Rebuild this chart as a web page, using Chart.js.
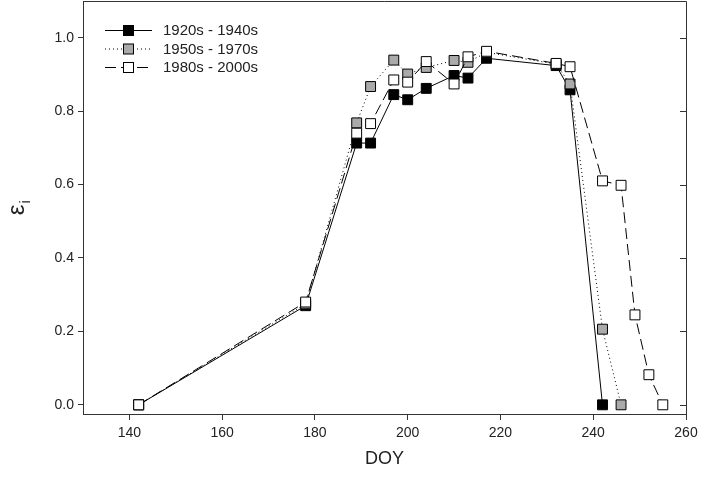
<!DOCTYPE html>
<html>
<head>
<meta charset="utf-8">
<script src="https://cdn.jsdelivr.net/npm/chart.js@4/dist/chart.umd.min.js"></script>
<style>
  html, body { margin: 0; padding: 0; background: #fff; }
  #wrap { width: 701px; height: 491px; }
</style>
</head>
<body>
<div id="wrap"><canvas id="eps"></canvas></div>
<script>
"use strict";

// series (DOY, epsilon_i)
const seriesNames = ["1920s - 1940s", "1950s - 1970s", "1980s - 2000s"];
const doyEarly = [142, 178, 189, 192, 197, 200, 204, 210, 213, 217, 232, 235, 242];
const epsEarly = [0, 0.27, 0.713, 0.713, 0.845, 0.831, 0.862, 0.897, 0.89, 0.944, 0.924, 0.858, 0];
const doyMid = [142, 178, 189, 192, 197, 200, 204, 210, 213, 217, 232, 235, 242, 246];
const epsMid = [0, 0.275, 0.768, 0.867, 0.939, 0.901, 0.919, 0.938, 0.933, 0.96, 0.928, 0.874, 0.206, 0];
const doyLate = [142, 178, 189, 192, 197, 200, 204, 210, 213, 217, 232, 235, 242, 246, 249, 252, 255];
const epsLate = [0, 0.28, 0.74, 0.766, 0.885, 0.879, 0.935, 0.874, 0.948, 0.963, 0.93, 0.921, 0.61, 0.598, 0.245, 0.082, 0];

const xTicks = [140, 160, 180, 200, 220, 240, 260];
const yTicks = [0, 0.2, 0.4, 0.6, 0.8, 1.0];

const FONT = "'Liberation Sans', Arial, sans-serif";
const AXIS = "#333";
const fills = ["#000000", "#aaaaaa", "#ffffff"];
const dashes = [[], [1, 3], [11, 5]];

function pts(xs, ys) {
  return xs.map((x, i) => ({ x: x, y: ys[i] }));
}

function makeSet(i, xs, ys) {
  return {
    label: seriesNames[i],
    data: pts(xs, ys),
    borderColor: "#000",
    borderWidth: 1,
    borderDash: dashes[i],
    pointStyle: "rect",
    pointRadius: 7,
    pointBorderWidth: 1,
    pointBorderColor: "#000",
    pointBackgroundColor: fills[i],
    tension: 0,
    order: 2 - i,
  };
}

const framePlugin = {
  id: "frame",
  afterDraw(chart) {
    const ctx = chart.ctx;
    const a = chart.chartArea;
    const ys = chart.scales.y;
    ctx.save();
    ctx.strokeStyle = AXIS;
    ctx.lineWidth = 1;
    ctx.beginPath();
    ctx.moveTo(a.left, a.top + 0.5);
    ctx.lineTo(a.right + 0.5, a.top + 0.5);
    ctx.lineTo(a.right + 0.5, a.bottom);
    yTicks.forEach((v) => {
      const py = Math.round(ys.getPixelForValue(v)) + 0.5;
      ctx.moveTo(a.right, py);
      ctx.lineTo(a.right - 6, py);
    });
    ctx.stroke();

    // legend: line sample, marker, label
    const rows = [30, 48.5, 67];
    ctx.font = "15px " + FONT;
    ctx.textBaseline = "middle";
    ctx.textAlign = "left";
    rows.forEach((ry, i) => {
      ctx.strokeStyle = "#000";
      ctx.setLineDash(dashes[i]);
      ctx.beginPath();
      ctx.moveTo(105, ry + 0.5);
      ctx.lineTo(152, ry + 0.5);
      ctx.stroke();
      ctx.setLineDash([]);
      ctx.fillStyle = fills[i];
      ctx.fillRect(123.5, ry - 4.5, 10, 10);
      ctx.strokeRect(123.5, ry - 4.5, 10, 10);
      ctx.fillStyle = "#222";
      ctx.fillText(seriesNames[i], 163, ry + 1);
    });

    // axis titles
    ctx.fillStyle = "#222";
    ctx.textAlign = "center";
    ctx.font = "18px " + FONT;
    ctx.fillText("DOY", (a.left + a.right) / 2, 459);

    ctx.translate(17, 210);
    ctx.rotate(-Math.PI / 2);
    ctx.font = "24px " + FONT;
    ctx.fillText("\u03b5", 0, 0);
    ctx.font = "14px " + FONT;
    ctx.fillText("i", 8, 9);
    ctx.restore();
  },
};

new Chart(document.getElementById("eps"), {
  type: "line",
  data: {
    datasets: [
      makeSet(0, doyEarly, epsEarly),
      makeSet(1, doyMid, epsMid),
      makeSet(2, doyLate, epsLate),
    ],
  },
  options: {
    responsive: true,
    maintainAspectRatio: false,
    animation: false,
    layout: {
      autoPadding: false,
      padding: { top: 1, right: 15, left: 0, bottom: 0 },
    },
    plugins: {
      legend: { display: false },
      tooltip: { enabled: false },
    },
    scales: {
      x: {
        type: "linear",
        min: 130,
        max: 260,
        afterBuildTicks: (s) => {
          s.ticks = xTicks.map((v) => ({ value: v }));
        },
        afterFit: (s) => {
          s.height = 77;
          s.paddingLeft = 0;
          s.paddingRight = 0;
        },
        grid: {
          drawOnChartArea: false,
          drawTicks: true,
          tickLength: 6,
          color: AXIS,
        },
        border: { display: true, color: AXIS, width: 1 },
        ticks: {
          padding: 5,
          color: "#222",
          font: { family: FONT, size: 14 },
          maxRotation: 0,
        },
      },
      y: {
        min: -0.025,
        max: 1.1,
        afterBuildTicks: (s) => {
          s.ticks = yTicks.map((v) => ({ value: v }));
        },
        afterFit: (s) => {
          s.width = 83;
          s.paddingTop = 0;
          s.paddingBottom = 0;
        },
        grid: {
          drawOnChartArea: false,
          drawTicks: true,
          tickLength: 5,
          color: AXIS,
        },
        border: { display: true, color: AXIS, width: 1 },
        ticks: {
          padding: 4,
          color: "#222",
          font: { family: FONT, size: 14 },
          callback: (v) => Number(v).toFixed(1),
        },
      },
    },
  },
  plugins: [framePlugin],
});
</script>
</body>
</html>
